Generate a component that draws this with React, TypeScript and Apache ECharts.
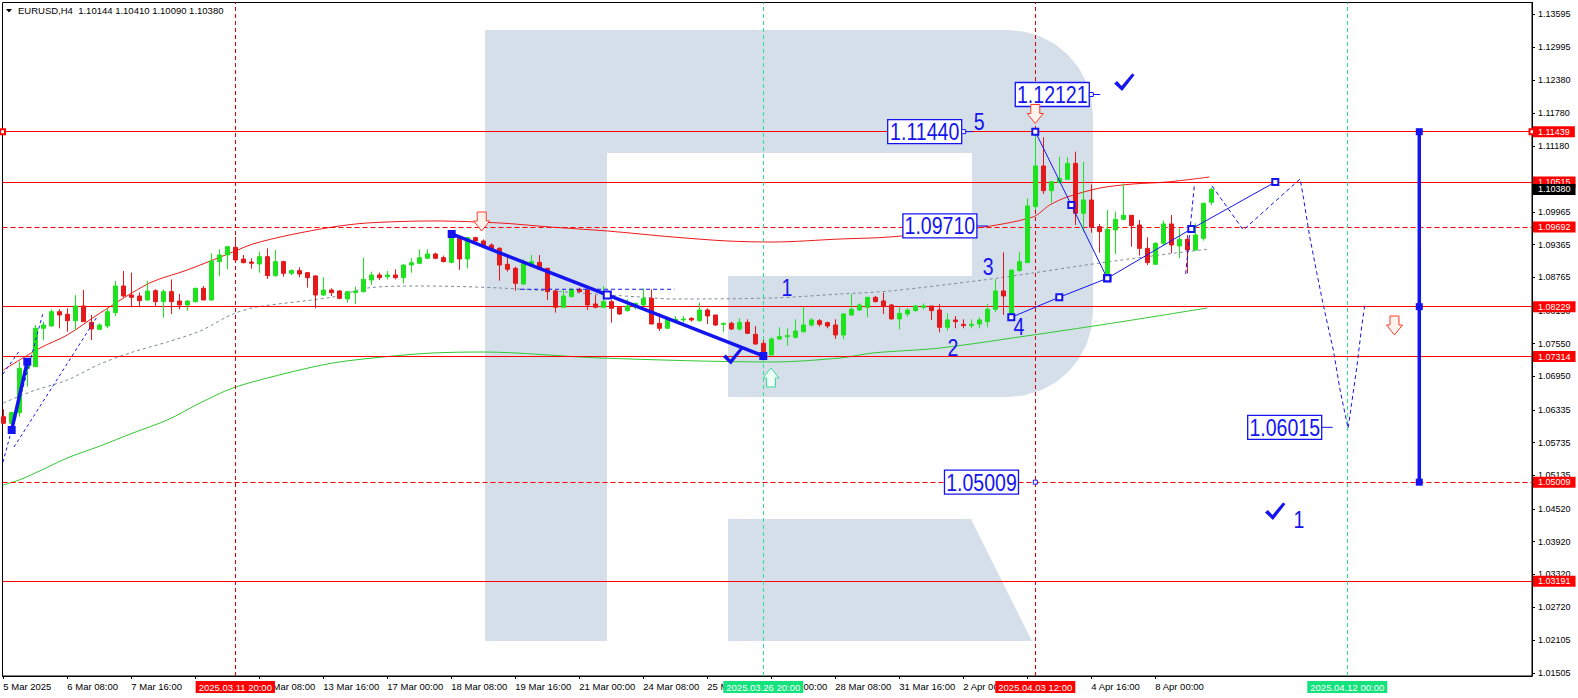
import React, { useEffect, useRef } from 'react';
import * as echarts from 'echarts';

const FONT = '"Liberation Sans", Arial, sans-serif';
const BLUE = '#1414f0';
const BULL = '#1ee21e';
const BEAR = '#e3191c';
const LOGO = '#d5dfea';

const symbolName = 'EURUSD';
const timeframe = 'H4';

// [open, close, low, high], one H4 bar per entry starting 5 Mar 2025 00:00
const candles: number[][] = [
  [1.06211, 1.06089, 1.06077, 1.06346], [1.06089, 1.06285, 1.05967, 1.06303], [1.06285, 1.07098, 1.06211, 1.0722], [1.07098, 1.07159, 1.06762, 1.07263],
  [1.07128, 1.07832, 1.07128, 1.07893], [1.07832, 1.07893, 1.07618, 1.07954], [1.07874, 1.08137, 1.07862, 1.0818], [1.08137, 1.08076, 1.07832, 1.0818],
  [1.08088, 1.07972, 1.0777, 1.08199], [1.07972, 1.08242, 1.07801, 1.08443], [1.08242, 1.07954, 1.07954, 1.08535], [1.07942, 1.07819, 1.07618, 1.08076],
  [1.07813, 1.07893, 1.07801, 1.07923], [1.07874, 1.08137, 1.07832, 1.08199], [1.08119, 1.08608, 1.08058, 1.087], [1.08608, 1.08425, 1.084, 1.08883],
  [1.08443, 1.084, 1.08217, 1.08853], [1.08425, 1.08339, 1.08217, 1.08486], [1.08351, 1.08516, 1.08339, 1.087], [1.08523, 1.08321, 1.08242, 1.08547],
  [1.08321, 1.08504, 1.08027, 1.08547], [1.08504, 1.08321, 1.08095, 1.0873], [1.08333, 1.0826, 1.0818, 1.08461], [1.0826, 1.08333, 1.08156, 1.08351],
  [1.08321, 1.08565, 1.08302, 1.08578], [1.08565, 1.08351, 1.08351, 1.08608], [1.08351, 1.09067, 1.08339, 1.09208], [1.09055, 1.09177, 1.08792, 1.09281],
  [1.09177, 1.0933, 1.08914, 1.09342], [1.09318, 1.09085, 1.09073, 1.09513], [1.09103, 1.09036, 1.09024, 1.09177], [1.09048, 1.09024, 1.08926, 1.09116],
  [1.09012, 1.09146, 1.08853, 1.09238], [1.09146, 1.08798, 1.08737, 1.09299], [1.08798, 1.09055, 1.08779, 1.09269], [1.09055, 1.08841, 1.08779, 1.09073],
  [1.08841, 1.0889, 1.0881, 1.08914], [1.0889, 1.08828, 1.08767, 1.08951], [1.08853, 1.08761, 1.08578, 1.08853], [1.08792, 1.08443, 1.08199, 1.0881],
  [1.08443, 1.08535, 1.08425, 1.08767], [1.08535, 1.08486, 1.08425, 1.08565], [1.08516, 1.08382, 1.08364, 1.08535], [1.0837, 1.08504, 1.08302, 1.08516],
  [1.08486, 1.08516, 1.08278, 1.08596], [1.08504, 1.0873, 1.08486, 1.09128], [1.08718, 1.0881, 1.08627, 1.08871], [1.0881, 1.08761, 1.08718, 1.08853],
  [1.08779, 1.0881, 1.0873, 1.08883], [1.0881, 1.08761, 1.0873, 1.08914], [1.08761, 1.08993, 1.08657, 1.09006], [1.08993, 1.09036, 1.08853, 1.09116],
  [1.09024, 1.09128, 1.09006, 1.09281], [1.09116, 1.09195, 1.09103, 1.09281], [1.09195, 1.09116, 1.09097, 1.0922], [1.09128, 1.09055, 1.09042, 1.09165],
  [1.09042, 1.09562, 1.09024, 1.09587], [1.09483, 1.09103, 1.08902, 1.09501], [1.09103, 1.09495, 1.08932, 1.09501], [1.09495, 1.09434, 1.09422, 1.09513],
  [1.09434, 1.09342, 1.09299, 1.09464], [1.0936, 1.09281, 1.09269, 1.09391], [1.09299, 1.08993, 1.08706, 1.09318], [1.09006, 1.08914, 1.08871, 1.09177],
  [1.08932, 1.08657, 1.08523, 1.08963], [1.08645, 1.09024, 1.08627, 1.09097], [1.09012, 1.09055, 1.08993, 1.09177], [1.09042, 1.08914, 1.08902, 1.09177],
  [1.08932, 1.08504, 1.08351, 1.08945], [1.08516, 1.08217, 1.08119, 1.08535], [1.08217, 1.08425, 1.08217, 1.08535], [1.08412, 1.08547, 1.084, 1.08565],
  [1.08547, 1.08504, 1.08486, 1.08578], [1.08535, 1.0826, 1.08168, 1.08547], [1.08278, 1.08217, 1.08199, 1.08443], [1.08217, 1.08321, 1.08217, 1.08608],
  [1.08321, 1.08199, 1.07936, 1.08351], [1.08217, 1.08095, 1.08076, 1.08229], [1.08156, 1.08242, 1.08137, 1.08364], [1.08217, 1.0829, 1.0818, 1.08302],
  [1.0826, 1.08382, 1.08242, 1.08565], [1.08382, 1.07911, 1.07905, 1.08547], [1.07923, 1.07832, 1.07783, 1.08107], [1.07832, 1.08015, 1.07819, 1.08046],
  [1.07966, 1.07997, 1.07923, 1.08058], [1.07985, 1.08003, 1.07936, 1.08058], [1.08015, 1.07985, 1.07954, 1.08033], [1.07972, 1.08168, 1.07954, 1.08302],
  [1.08168, 1.08058, 1.07911, 1.08199], [1.08076, 1.07893, 1.07874, 1.08076], [1.07905, 1.07923, 1.0777, 1.07936], [1.07923, 1.07819, 1.07801, 1.07954],
  [1.07819, 1.07942, 1.07789, 1.08015], [1.07942, 1.0774, 1.07728, 1.07997], [1.07721, 1.07544, 1.07526, 1.07874], [1.07556, 1.07355, 1.07312, 1.07618],
  [1.07342, 1.07636, 1.07342, 1.07667], [1.07636, 1.07679, 1.07618, 1.0785], [1.07679, 1.07697, 1.07514, 1.07832], [1.07667, 1.07783, 1.07648, 1.07997],
  [1.0777, 1.07893, 1.07752, 1.08217], [1.07893, 1.07985, 1.07862, 1.08015], [1.07972, 1.07905, 1.07862, 1.08003], [1.07936, 1.07874, 1.07832, 1.07954],
  [1.07893, 1.07709, 1.07636, 1.07997], [1.07709, 1.08095, 1.0763, 1.08107], [1.08076, 1.0818, 1.08058, 1.08461], [1.08168, 1.0826, 1.08156, 1.0829],
  [1.08217, 1.084, 1.08033, 1.08412], [1.084, 1.08321, 1.08309, 1.08425], [1.08333, 1.08242, 1.08095, 1.08486], [1.0826, 1.08003, 1.07997, 1.08278],
  [1.08003, 1.08107, 1.07813, 1.08217], [1.08095, 1.08168, 1.08046, 1.08199], [1.08156, 1.08242, 1.08137, 1.0826], [1.08217, 1.08242, 1.0818, 1.0829],
  [1.08242, 1.08156, 1.07985, 1.08242], [1.08168, 1.0785, 1.07758, 1.08278], [1.0785, 1.07985, 1.07789, 1.08107], [1.07985, 1.07954, 1.07832, 1.08058],
  [1.07905, 1.07881, 1.07832, 1.07997], [1.07881, 1.07905, 1.07832, 1.07997], [1.07911, 1.07985, 1.07832, 1.08033], [1.07954, 1.0818, 1.0785, 1.08278],
  [1.0818, 1.08517, 1.08125, 1.08731], [1.08517, 1.08425, 1.08076, 1.09226], [1.08107, 1.08902, 1.08033, 1.08902], [1.0889, 1.09055, 1.08871, 1.09226],
  [1.09036, 1.10076, 1.09036, 1.10217], [1.10064, 1.1081, 1.10003, 1.1144], [1.1081, 1.10357, 1.10296, 1.11336], [1.10357, 1.10522, 1.10137, 1.10522],
  [1.10504, 1.10583, 1.10492, 1.10981], [1.10565, 1.10858, 1.10553, 1.10969], [1.10858, 1.09941, 1.09727, 1.11073], [1.09941, 1.10186, 1.09605, 1.10889],
  [1.10186, 1.09685, 1.09587, 1.10473], [1.09697, 1.09605, 1.0922, 1.09746], [1.0881, 1.09648, 1.0878, 1.10003], [1.09636, 1.09831, 1.09195, 1.09972],
  [1.09831, 1.09905, 1.09819, 1.10492], [1.09905, 1.09715, 1.0933, 1.09905], [1.09727, 1.09299, 1.09165, 1.09819], [1.09299, 1.09036, 1.08994, 1.09501],
  [1.09006, 1.09391, 1.09006, 1.09409], [1.09391, 1.09746, 1.09348, 1.09807], [1.09746, 1.0936, 1.09208, 1.09911], [1.09342, 1.09464, 1.09116, 1.09666],
  [1.09464, 1.09269, 1.08841, 1.09544], [1.09269, 1.09544, 1.09256, 1.09758], [1.09483, 1.10125, 1.0944, 1.10137], [1.10144, 1.1038, 1.1009, 1.1041],
];

// moving averages: [bar, price]
const redMA: number[][] = [
  [0, 1.07067], [4.6, 1.07471], [8, 1.07709], [12.1, 1.08113], [18.3, 1.08663], [23, 1.08902], [28.7, 1.09232], [31.2, 1.09379],
  [35.8, 1.09544], [41.2, 1.09691], [45.5, 1.09764], [53.7, 1.09801], [62.1, 1.09764], [68.3, 1.09691], [75.5, 1.09617], [83.7, 1.09507],
  [90.5, 1.09434], [96.2, 1.09415], [104.6, 1.0947], [110.8, 1.09507], [121.7, 1.09672], [128.7, 1.09874], [130.8, 1.10094], [133, 1.10241],
  [137.1, 1.10406], [141.2, 1.10479], [145.5, 1.10516], [150.8, 1.10608],
];
const grayMA: number[][] = [
  [0, 1.06462], [3.7, 1.06682], [8, 1.06884], [12.1, 1.07177], [16.2, 1.07397], [20.5, 1.07581], [24.6, 1.07782], [28.7, 1.08094],
  [31.7, 1.08223], [41.2, 1.08406], [45.5, 1.08571], [52.1, 1.08608], [62.1, 1.08571], [79.6, 1.08406], [83.7, 1.0837], [96.2, 1.08388],
  [104.6, 1.08461], [110.8, 1.08516], [122.5, 1.08718], [128.7, 1.08847], [137.1, 1.0903], [145.5, 1.09195], [150.8, 1.09287],
];
const greenMA: number[][] = [
  [0, 1.04957], [2.3, 1.05067], [4.8, 1.05232], [8, 1.05453], [12.1, 1.05673], [16.2, 1.05911], [20.5, 1.0615], [24.6, 1.06462],
  [28.7, 1.06737], [35, 1.06994], [41.2, 1.07196], [47.5, 1.07306], [53.7, 1.07379], [60, 1.07397], [74.6, 1.07287], [96.2, 1.07214],
  [104.6, 1.07287], [108.7, 1.07379], [117.1, 1.07471], [128.7, 1.07709], [139.6, 1.07948], [150.5, 1.08205],
];

// analyst drawings: [bar, price]
const downTrend: number[][] = [[56.05, 1.09562], [75.5, 1.08443], [95, 1.07324]];
const leftThick: number[][] = [[1.05, 1.05966], [3.0, 1.07219]];
const leftDashA: number[][] = [[-0.04, 1.05379], [4.96, 1.08113]];
const leftDashB: number[][] = [[-0.04, 1.06994], [2.09, 1.07434]];
const leftDashC: number[][] = [[1.34, 1.05654], [11.7, 1.08039]];
const flatDash: number[][] = [[64.6, 1.08548], [83.9, 1.08548]];
const waveAD: number[][] = [[126, 1.08034], [132, 1.08401], [138, 1.08749]];
const waveBD: number[][] = [[129, 1.1144], [133.5, 1.10094], [138, 1.08749]];
const waveDG: number[][] = [[138, 1.08749], [148.5, 1.09654], [159, 1.10516]];
const forecast1: number[][] = [[147.8, 1.08828], [148.9, 1.10479]];
const forecast2: number[][] = [
  [151.1, 1.10443], [155, 1.09635], [162.1, 1.10571], [162.5, 1.10246], [163.3, 1.09513], [164.2, 1.08841], [165, 1.0826],
  [166.25, 1.07434], [167.1, 1.067], [168.1, 1.05997], [168.55, 1.06456], [169.2, 1.07128], [169.8, 1.07862], [170.2, 1.08278],
];
const targetBar: number[][] = [[177, 1.11439], [177, 1.08229], [177, 1.05009]];

const levelLines = [
  { price: 1.11439, dashed: false },
  { price: 1.10515, dashed: false },
  { price: 1.09692, dashed: true },
  { price: 1.08229, dashed: false },
  { price: 1.07314, dashed: false },
  { price: 1.05009, dashed: true },
  { price: 1.03191, dashed: false },
];
const lastPrice = 1.1038;

const timeLines = [
  { bar: 29, text: '2025.03.11 20:00', kind: 'red' },
  { bar: 95, text: '2025.03.26 20:00', kind: 'green' },
  { bar: 129, text: '2025.04.03 12:00', kind: 'red' },
  { bar: 168, text: '2025.04.12 00:00', kind: 'green' },
];

const yTicks = [1.13595, 1.12995, 1.1238, 1.1178, 1.1118, 1.09965, 1.09365, 1.08765, 1.0815, 1.0755, 1.0695, 1.06335,
  1.05735, 1.05135, 1.0452, 1.0392, 1.0332, 1.0272, 1.02105, 1.01505];
const xTickBars = [0, 8, 16, 24, 32, 40, 48, 56, 64, 72, 80, 88, 96, 104, 112, 120, 128, 136, 144];
const xLabelBars = [0, 8, 16, 32, 40, 48, 56, 64, 72, 80, 88, 96, 104, 112, 120, 136, 144];
const xLabelTexts = ['5 Mar 2025', '6 Mar 08:00', '7 Mar 16:00', '12 Mar 08:00', '13 Mar 16:00', '17 Mar 00:00',
  '18 Mar 08:00', '19 Mar 16:00', '21 Mar 00:00', '24 Mar 08:00', '25 Mar 16:00', '27 Mar 00:00', '28 Mar 08:00', '31 Mar 16:00',
  '2 Apr 00:00', '4 Apr 16:00', '8 Apr 00:00'];

const priceBoxes = [
  { text: '1.12121', bar: 135.75, price: 1.12121, tail: 'square' },
  { text: '1.11440', bar: 119.8, price: 1.1144, tail: 'square' },
  { text: '1.09710', bar: 121.7, price: 1.0971, tail: 'line' },
  { text: '1.06015', bar: 164.8, price: 1.06015, tail: 'line' },
  { text: '1.05009', bar: 126.9, price: 1.05009, tail: 'none' },
];
const smallSquares: number[][] = [[129, 1.05009]];
const waveLabels = [
  { text: '1', bar: 97.96, price: 1.0859 },
  { text: '2', bar: 118.7, price: 1.07489 },
  { text: '3', bar: 123.1, price: 1.08966 },
  { text: '4', bar: 126.96, price: 1.07865 },
  { text: '5', bar: 122.0, price: 1.11626 },
  { text: '1', bar: 161.96, price: 1.04333 },
];
const checkMarks: number[][] = [[91.2, 1.07324], [140.1, 1.12342], [158.96, 1.04471]];
const arrows = [
  { dir: 'down', bar: 59.8, price: 1.09782 },
  { dir: 'down', bar: 129, price: 1.11754 },
  { dir: 'down', bar: 173.9, price: 1.07874 },
  { dir: 'up', bar: 95.96, price: 1.06939 },
];

const lineSeries = (data: any[], color: string, width: number, type: any = 'solid', extra: any = {}) => ({
  type: 'line', data, showSymbol: false, symbol: 'none', silent: true, z: 6,
  lineStyle: { color, width, type }, ...extra,
});

const withSymbols = (pts: number[][], sym: string, size: number) =>
  pts.map((p) => ({ value: p, symbol: sym, symbolSize: size }));

function bowlPoints() {
  const pts: number[][] = [[607, 30]];
  const r = 85, cx = 1008;
  for (let k = 0; k <= 8; k++) { const t = -Math.PI / 2 + (k * Math.PI) / 16; pts.push([cx + r * Math.cos(t), 115 + r * Math.sin(t)]); }
  for (let k = 0; k <= 8; k++) { const t = (k * Math.PI) / 16; pts.push([cx + r * Math.cos(t), 312 + r * Math.sin(t)]); }
  pts.push([728, 397], [728, 276], [972, 276], [972, 153], [607, 153]);
  return pts;
}

export default function App() {
  const ref = useRef<HTMLDivElement>(null);
  useEffect(() => {
    const chart = echarts.init(ref.current!, null, { renderer: 'svg' });
    const tag = (bg: string, text: string) => ({
      show: true, position: 'end', distance: 1, formatter: text, backgroundColor: bg, color: '#fff',
      fontSize: 9, fontFamily: FONT, padding: [1, 5, 1, 5], lineHeight: 9,
    });
    const option: any = {
      animation: false,
      textStyle: { fontFamily: FONT },
      grid: { left: 2.5, right: 46, top: 2.5, bottom: 22, show: true, borderColor: '#000', borderWidth: 1, outerBoundsMode: 'none', containLabel: false },
      xAxis: {
        type: 'value', min: -0.1, max: 191.09, splitLine: { show: false },
        axisLine: { show: true, onZero: false, lineStyle: { color: '#000', width: 1 } },
        axisTick: { show: true, length: 3, customValues: xTickBars, lineStyle: { color: '#000' } },
        axisLabel: {
          customValues: xLabelBars, align: 'left', margin: 5, color: '#000', fontSize: 9.5, fontFamily: FONT,
          formatter: (v: number) => { const i = xLabelBars.indexOf(Math.round(v)); return i >= 0 ? xLabelTexts[i] : ''; },
        },
      },
      yAxis: {
        type: 'value', position: 'right', min: 1.01453, max: 1.13809, splitLine: { show: false },
        axisLine: { show: true, onZero: false, lineStyle: { color: '#000', width: 1 } },
        axisTick: { show: true, length: 3, customValues: yTicks, lineStyle: { color: '#000' } },
        axisLabel: { customValues: yTicks, margin: 6, color: '#000', fontSize: 9, fontFamily: FONT, formatter: (v: number) => v.toFixed(5) },
      },
      series: [
        lineSeries(greenMA, '#32c832', 1, 'solid', { smooth: 0.3, z: 3 }),
        lineSeries(grayMA, '#7a8a9a', 1, [3, 3], { smooth: 0.3, z: 3 }),
        lineSeries(redMA, '#ee1a1a', 1, 'solid', { smooth: 0.3, z: 3 }),
        {
          type: 'line', data: [], silent: true, z: 4,
          markLine: {
            silent: true, symbol: 'none', animation: false, precision: 5,
            data: levelLines.slice(1).map((l) => ({
              yAxis: l.price,
              lineStyle: { color: '#ff0000', width: 1, type: l.dashed ? [5, 3] : 'solid' },
              label: tag('#ff0000', l.price.toFixed(5)),
            })).concat([{ yAxis: lastPrice, lineStyle: { color: 'rgba(0,0,0,0)', width: 1, type: 'solid' }, label: tag('#000000', lastPrice.toFixed(5)) } as any])
              .concat(timeLines.map((t) => ({
                xAxis: t.bar,
                lineStyle: { color: t.kind === 'red' ? '#e00000' : '#2ee08c', width: 1, type: [4, 3] },
                label: {
                  show: true, position: 'start', distance: 5, formatter: t.text, color: '#fff',
                  backgroundColor: t.kind === 'red' ? '#ff0000' : '#14e27c', fontSize: 9.5, fontFamily: FONT,
                  padding: [1, 3, 1, 3], lineHeight: 10,
                },
              })) as any),
          },
        },
        {
          type: 'line', data: [], silent: true, z: 4,
          markLine: {
            silent: true, symbol: ['emptyRect', 'emptyRect'], symbolSize: 5, animation: false, precision: 5,
            data: [{ yAxis: levelLines[0].price, lineStyle: { color: '#ff0000', width: 1, type: 'solid' }, label: tag('#ff0000', levelLines[0].price.toFixed(5)) }],
          },
        },
        {
          type: 'candlestick', z: 5, barWidth: 4, silent: true,
          data: candles.map((c, i) => [i, ...c]),
          itemStyle: { color: BULL, color0: BEAR, borderColor: BULL, borderColor0: BEAR, borderWidth: 1 },
        },
        lineSeries(leftDashA, BLUE, 1, [3, 3]),
        lineSeries(leftDashB, BLUE, 1, [3, 3]),
        lineSeries(leftDashC, BLUE, 1, [3, 3]),
        lineSeries(flatDash, BLUE, 1, [4, 3]),
        lineSeries(forecast1, BLUE, 1, [4, 3]),
        lineSeries(forecast2, BLUE, 1, [4, 3]),
        lineSeries(withSymbols(waveAD, 'emptyRect', 6), BLUE, 1, 'solid', { showSymbol: true, itemStyle: { color: BLUE, borderWidth: 1 } }),
        lineSeries(withSymbols(waveBD, 'emptyRect', 6), BLUE, 1, 'solid', { showSymbol: true, itemStyle: { color: BLUE, borderWidth: 1 } }),
        lineSeries(withSymbols(waveDG, 'emptyRect', 6), BLUE, 1, 'solid', { showSymbol: true, itemStyle: { color: BLUE, borderWidth: 1 } }),
        lineSeries(
          [{ value: downTrend[0], symbol: 'rect', symbolSize: 8 }, { value: downTrend[1], symbol: 'emptyRect', symbolSize: 7 }, { value: downTrend[2], symbol: 'rect', symbolSize: 8 }],
          BLUE, 3.5, 'solid', { showSymbol: true, z: 7, itemStyle: { color: BLUE, borderWidth: 2 } }),
        lineSeries(withSymbols(leftThick, 'rect', 8), BLUE, 3.5, 'solid', { showSymbol: true, z: 7, itemStyle: { color: BLUE } }),
        lineSeries(withSymbols(targetBar, 'rect', 7), BLUE, 3.5, 'solid', { showSymbol: true, z: 7, itemStyle: { color: BLUE } }),
      ],
    };
    chart.setOption(option);

    const P = (b: number, p: number) => chart.convertToPixel({ xAxisIndex: 0, yAxisIndex: 0 }, [b, p]) as number[];
    const els: any[] = [];
    // watermark logo
    els.push({ type: 'rect', z: 1, silent: true, shape: { x: 485, y: 30, width: 122, height: 611 }, style: { fill: LOGO } });
    els.push({ type: 'polygon', z: 1, silent: true, shape: { points: bowlPoints() }, style: { fill: LOGO } });
    els.push({ type: 'polygon', z: 1, silent: true, shape: { points: [[728, 519], [971, 519], [1032, 641], [728, 641]] }, style: { fill: LOGO } });

    // header
    const last = candles[candles.length - 1];
    els.push({ type: 'polygon', z: 100, shape: { points: [[6, 9], [12, 9], [9, 12.5]] }, style: { fill: '#000' } });
    els.push({
      type: 'text', z: 100, x: 18, y: 10.7,
      style: {
        text: `${symbolName},${timeframe}  ${last[0].toFixed(5)} ${last[3].toFixed(5)} ${last[2].toFixed(5)} ${last[1].toFixed(5)}`,
        fill: '#000', fontSize: 9.5, fontFamily: FONT, align: 'left', verticalAlign: 'middle', textAlign: 'left', textVerticalAlign: 'middle',
      },
    });

    const bigText = (x: number, y: number, text: string) => ({
      type: 'text', z: 101, x, y, scaleX: 0.85,
      style: { text, fill: BLUE, fontSize: 23, fontFamily: FONT, align: 'center', verticalAlign: 'middle', textAlign: 'center', textVerticalAlign: 'middle' },
    });

    priceBoxes.forEach((b) => {
      const [rx, cy] = P(b.bar, b.price);
      const w = 74, h = 24;
      els.push({ type: 'rect', z: 100, shape: { x: rx - w, y: cy - h / 2, width: w, height: h }, style: { fill: '#fff', stroke: BLUE, lineWidth: 1.3 } });
      els.push(bigText(rx - w / 2, cy + 1, b.text));
      if (b.tail === 'square') {
        els.push({ type: 'rect', z: 100, shape: { x: rx, y: cy - 2, width: 4, height: 4 }, style: { fill: '#fff', stroke: BLUE, lineWidth: 1 } });
        els.push({ type: 'line', z: 100, shape: { x1: rx + 4, y1: cy, x2: rx + 11, y2: cy }, style: { stroke: BLUE, lineWidth: 1 } });
      } else if (b.tail === 'line') {
        els.push({ type: 'line', z: 100, shape: { x1: rx, y1: cy, x2: rx + 11, y2: cy }, style: { stroke: BLUE, lineWidth: 1 } });
      }
    });
    smallSquares.forEach(([b, p]) => {
      const [x, y] = P(b, p);
      els.push({ type: 'rect', z: 100, shape: { x: x - 2, y: y - 2, width: 4, height: 4 }, style: { fill: '#fff', stroke: BLUE, lineWidth: 1 } });
    });
    waveLabels.forEach((w) => {
      const [x, y] = P(w.bar, w.price);
      els.push(bigText(x, y + 1, w.text));
    });
    checkMarks.forEach(([b, p]) => {
      const [x, y] = P(b, p);
      const pts = [[-10, 1], [-7, -1.5], [-2.5, 3.5], [8, -9], [10.5, -7.5], [-2, 8.5]].map(([dx, dy]) => [x + dx, y + dy]);
      els.push({ type: 'polygon', z: 100, shape: { points: pts }, style: { fill: BLUE } });
    });
    arrows.forEach((a) => {
      const [x, y] = P(a.bar, a.price);
      const s = a.dir === 'down' ? 1 : -1;
      const base = [[-4.5, -10], [4.5, -10], [4.5, -1], [8, -1], [0, 9], [-8, -1], [-4.5, -1]];
      const pts = base.map(([dx, dy]) => [x + dx, y + s * dy]);
      els.push({
        type: 'polygon', z: 100, shape: { points: pts },
        style: { fill: a.dir === 'down' ? '#fff3ee' : '#f0fff6', stroke: a.dir === 'down' ? '#ff3a2a' : '#33dd99', lineWidth: 1 },
      });
    });

    chart.setOption({ graphic: { elements: els } });
    return () => chart.dispose();
  }, []);
  return <div ref={ref} style={{ position: 'fixed', left: 0, top: 0, width: 1578, height: 698, background: '#fff' }} />;
}
